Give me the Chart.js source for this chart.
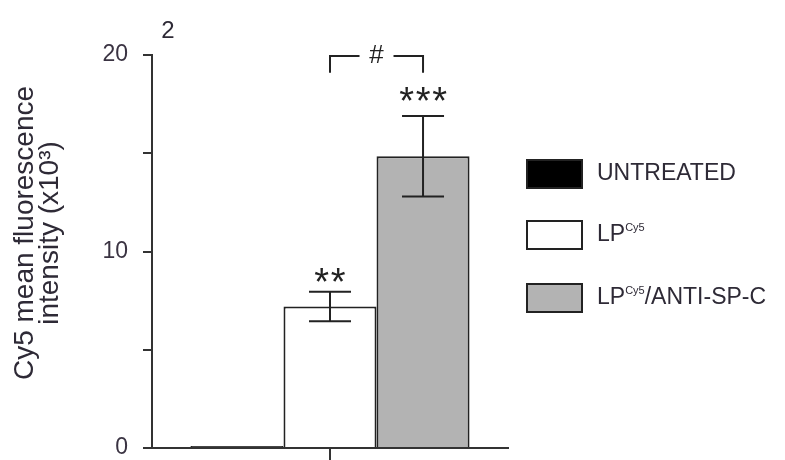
<!DOCTYPE html>
<html>
<head>
<meta charset="utf-8">
<script src="https://cdn.jsdelivr.net/npm/chart.js@4/dist/chart.umd.min.js"></script>
<style>
  body { margin: 0; background: #fff; }
  #wrap { width: 785px; height: 460px; position: relative; }
</style>
</head>
<body>
<div id="wrap"><canvas id="myChart"></canvas></div>
<script>
// data (x10^3)
const groups = ['UNTREATED', 'LP', 'LP/ANTI-SP-C'];
const means = [0.1, 7.2, 14.85];
const sem = [0, 0.75, 2.05];
const stars = ['', '**', '***'];
const yTicks = [0, 5, 10, 15, 20];
const yLabels = [0, 10, 20];
const fills = ['#000000', '#ffffff', '#b3b3b3'];

const FONT = '"Liberation Sans", Arial, sans-serif';
const TXT = '#2e2a36';

window.onload = function() {

  const errorBars = {
    id: 'errorBars',
    afterDatasetsDraw(chart) {
      const ctx = chart.ctx;
      const y = chart.scales.y;
      ctx.save();
      ctx.strokeStyle = '#222';
      ctx.lineWidth = 2;
      chart.data.datasets.forEach((ds, i) => {
        const bar = chart.getDatasetMeta(i).data[0];
        if (sem[i] > 0) {
          const top = y.getPixelForValue(means[i] + sem[i]);
          const bot = y.getPixelForValue(means[i] - sem[i]);
          ctx.beginPath();
          ctx.moveTo(bar.x, top); ctx.lineTo(bar.x, bot);
          ctx.moveTo(bar.x - 21, top); ctx.lineTo(bar.x + 21, top);
          ctx.moveTo(bar.x - 21, bot); ctx.lineTo(bar.x + 21, bot);
          ctx.stroke();
        }
        if (stars[i]) {
          const top = y.getPixelForValue(means[i] + sem[i]);
          ctx.fillStyle = '#222';
          ctx.font = '38px ' + FONT;
          ctx.textAlign = 'center';
          ctx.textBaseline = 'alphabetic';
          const n = stars[i].length;
          const lift = n === 3 ? 24 : 19;
          for (let k = 0; k < n; k++) {
            ctx.fillText('*', bar.x + (k - (n - 1) / 2) * 16.5, top - lift + 22);
          }
        }
      });

      // # bracket between LP and LP/ANTI-SP-C
      const b1 = chart.getDatasetMeta(1).data[0];
      const b2 = chart.getDatasetMeta(2).data[0];
      const yTop = y.getPixelForValue(19.95);
      const yLeg = y.getPixelForValue(19.1);
      const mid = (b1.x + b2.x) / 2;
      ctx.beginPath();
      ctx.moveTo(b1.x, yLeg); ctx.lineTo(b1.x, yTop); ctx.lineTo(mid - 17, yTop);
      ctx.moveTo(mid + 17, yTop); ctx.lineTo(b2.x, yTop); ctx.lineTo(b2.x, yLeg);
      ctx.stroke();
      ctx.fillStyle = '#222';
      ctx.font = '26px ' + FONT;
      ctx.textAlign = 'center';
      ctx.textBaseline = 'middle';
      ctx.fillText('#', mid, yTop);
      ctx.restore();
    }
  };

  const extras = {
    id: 'extras',
    afterDraw(chart) {
      const ctx = chart.ctx;
      const area = chart.chartArea;
      ctx.save();
      ctx.fillStyle = TXT;

      // panel number
      ctx.font = '24px ' + FONT;
      ctx.textAlign = 'center';
      ctx.textBaseline = 'middle';
      ctx.fillText('2', 168, 31);

      // y axis title, two lines
      ctx.save();
      ctx.translate(25, 233);
      ctx.rotate(-Math.PI / 2);
      ctx.font = '28px ' + FONT;
      ctx.fillText('Cy5 mean fluorescence', 0, 0);
      ctx.restore();
      ctx.save();
      ctx.translate(50, 233);
      ctx.rotate(-Math.PI / 2);
      ctx.font = '28px ' + FONT;
      ctx.fillText('intensity (x10\u00B3)', 0, 0);
      ctx.restore();

      // legend
      const rows = [174, 235, 298];
      const bx = area.right + 19;
      chart.data.datasets.forEach((ds, i) => {
        const cy = rows[i];
        ctx.fillStyle = fills[i];
        ctx.fillRect(bx, cy - 14, 55, 28);
        ctx.strokeStyle = '#222';
        ctx.lineWidth = 2;
        ctx.strokeRect(bx, cy - 14, 55, 28);

        ctx.fillStyle = TXT;
        ctx.textAlign = 'left';
        ctx.textBaseline = 'middle';
        let tx = bx + 70;
        if (i === 0) {
          ctx.font = '23px ' + FONT;
          ctx.fillText(groups[0], tx, cy);
        } else {
          ctx.font = '23px ' + FONT;
          ctx.fillText('LP', tx, cy);
          tx += ctx.measureText('LP').width;
          ctx.font = '11px ' + FONT;
          ctx.fillText('Cy5', tx, cy - 7);
          tx += ctx.measureText('Cy5').width;
          if (i === 2) {
            ctx.font = '23px ' + FONT;
            ctx.fillText('/ANTI-SP-C', tx, cy);
          }
        }
      });
      ctx.restore();
    }
  };

  const datasets = groups.map((g, i) => ({
    label: g,
    data: [means[i]],
    backgroundColor: fills[i],
    borderColor: '#222',
    borderWidth: 2,
    barPercentage: 1,
    categoryPercentage: 0.784
  }));

  const config = {
    type: 'bar',
    data: { labels: [''], datasets: datasets },
    options: {
      responsive: true,
      maintainAspectRatio: false,
      animation: false,
      layout: { padding: { left: 0, top: 55, right: 277, bottom: 0 } },
      plugins: {
        legend: { display: false },
        tooltip: { enabled: false }
      },
      scales: {
        x: {
          afterFit: (s) => { s.height = 12; },
          ticks: { display: false },
          grid: { drawOnChartArea: false, offset: false, tickLength: 12, color: '#333', lineWidth: 2 },
          border: { display: true, color: '#333', width: 2 }
        },
        y: {
          min: 0,
          max: 20,
          afterFit: (s) => { s.width = 152; s.paddingBottom = 0; s.paddingTop = 0; },
          afterBuildTicks: (s) => { s.ticks = yTicks.map(v => ({ value: v })); },
          ticks: {
            padding: 15,
            color: '#3a3342',
            font: { family: FONT, size: 23, lineHeight: 0.4 },
            callback: (v) => yLabels.includes(v) ? v : ''
          },
          grid: { drawOnChartArea: false, tickLength: 9, color: '#333', lineWidth: 2 },
          border: { display: true, color: '#333', width: 2 }
        }
      }
    },
    plugins: [errorBars, extras]
  };

  const myChart = new Chart(document.getElementById('myChart').getContext('2d'), config);
};
</script>
</body>
</html>
